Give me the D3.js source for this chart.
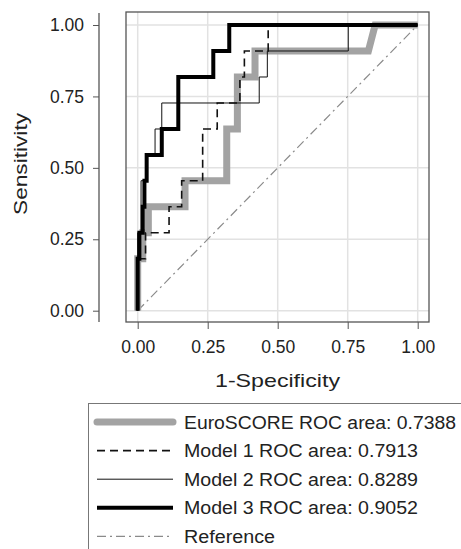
<!DOCTYPE html>
<meta charset="utf-8">
<style>
    body { margin: 0; background: #fff; }
    text { font-family: "Liberation Sans", Arial, sans-serif; fill: #222; }
    .grid line { stroke: #e2e2e2; stroke-width: 1.5px; }
    .axis path { display: none; }
    .axis line { stroke: #555; }
</style>
<body>
<div id="d3_target"></div>
<script src="https://cdn.jsdelivr.net/npm/d3@7"></script>
<script>
    // ROC step curves: [1-specificity, sensitivity]
    var euroscore = [[0, 0], [0, 0.182], [0.018, 0.182], [0.018, 0.273], [0.038, 0.273], [0.038, 0.364],
        [0.169, 0.364], [0.169, 0.455], [0.318, 0.455], [0.318, 0.636], [0.356, 0.636], [0.356, 0.818],
        [0.419, 0.818], [0.419, 0.909], [0.824, 0.909], [0.848, 1], [1, 1]];
    var model1 = [[0, 0], [0, 0.182], [0.028, 0.182], [0.028, 0.273], [0.112, 0.273], [0.112, 0.364],
        [0.157, 0.364], [0.157, 0.455], [0.232, 0.455], [0.232, 0.636], [0.284, 0.636], [0.284, 0.727],
        [0.365, 0.727], [0.365, 0.818], [0.381, 0.818], [0.381, 0.909], [0.466, 0.909], [0.466, 1], [1, 1]];
    var model2 = [[0, 0], [0, 0.273], [0.012, 0.273], [0.012, 0.455], [0.03, 0.455], [0.03, 0.545],
        [0.062, 0.545], [0.062, 0.636], [0.086, 0.636], [0.086, 0.727], [0.434, 0.727], [0.434, 0.818],
        [0.463, 0.818], [0.463, 0.909], [0.752, 0.909], [0.752, 1], [1, 1]];
    var model3 = [[0, 0], [0, 0.182], [0.006, 0.182], [0.006, 0.273], [0.018, 0.273], [0.018, 0.364],
        [0.024, 0.364], [0.024, 0.455], [0.032, 0.455], [0.032, 0.545], [0.086, 0.545], [0.086, 0.636],
        [0.145, 0.636], [0.145, 0.818], [0.27, 0.818], [0.27, 0.909], [0.327, 0.909], [0.327, 1], [1, 1]];
    var reference = [[0, 0], [1, 1]];

    var tickValues = [0, 0.25, 0.5, 0.75, 1];
    var legendLabels = ["EuroSCORE ROC area: 0.7388", "Model 1 ROC area: 0.7913",
        "Model 2 ROC area: 0.8289", "Model 3 ROC area: 0.9052", "Reference"];

    var width = 461,
        height = 549;

    var styles = [
        { data: euroscore, color: "#a3a3a3", w: 7, dash: null, cap: "round" },
        { data: model1, color: "#111", w: 1.6, dash: "8,5", cap: "butt" },
        { data: model2, color: "#111", w: 1, dash: null, cap: "butt" },
        { data: model3, color: "#000", w: 4, dash: null, cap: "butt" },
        { data: reference, color: "#8a8a8a", w: 1.2, dash: "9,4,2,4", cap: "butt" }
    ];
    var legendLen = [272, 234, 234, 234, 91];

    var svg = d3.select("#d3_target").append("svg")
        .attr("width", width)
        .attr("height", height);

    var x = d3.scaleLinear().domain([0, 1]).range([137.7, 417.7]);
    var y = d3.scaleLinear().domain([0, 1]).range([310.7, 25]);

    // grid
    svg.append("g").attr("class", "grid")
        .selectAll("line.v").data(tickValues).enter().append("line")
        .attr("x1", function (d) { return x(d); }).attr("x2", function (d) { return x(d); })
        .attr("y1", 12).attr("y2", 322);
    svg.append("g").attr("class", "grid")
        .selectAll("line.h").data(tickValues).enter().append("line")
        .attr("y1", function (d) { return y(d); }).attr("y2", function (d) { return y(d); })
        .attr("x1", 126).attr("x2", 429);

    // plot frame
    svg.append("rect")
        .attr("x", 126).attr("y", 12).attr("width", 303).attr("height", 310)
        .attr("fill", "none").attr("stroke", "#555").attr("stroke-width", 1.3);

    // axes
    var fmt = d3.format(".2f");
    svg.append("g").attr("class", "axis")
        .attr("transform", "translate(0,322)")
        .call(d3.axisBottom(x).tickValues(tickValues).tickFormat(fmt).tickSize(7).tickPadding(12))
        .selectAll("text").style("font-size", "17.5px").attr("fill", "#222");

    svg.append("line")
        .attr("x1", 99).attr("x2", 99).attr("y1", 13).attr("y2", 322)
        .attr("stroke", "#555").attr("stroke-width", 1.3);
    svg.append("g").attr("class", "axis")
        .attr("transform", "translate(99,0)")
        .call(d3.axisLeft(y).tickValues(tickValues).tickFormat(fmt).tickSize(6).tickPadding(9))
        .selectAll("text").style("font-size", "17.5px").attr("fill", "#222");

    svg.append("text")
        .attr("x", 277.5).attr("y", 387)
        .attr("text-anchor", "middle")
        .style("font-size", "19px")
        .attr("textLength", 125).attr("lengthAdjust", "spacingAndGlyphs")
        .text("1-Specificity");

    svg.append("text")
        .attr("transform", "translate(27,164) rotate(-90)")
        .attr("text-anchor", "middle")
        .style("font-size", "18px")
        .attr("textLength", 102).attr("lengthAdjust", "spacingAndGlyphs")
        .text("Sensitivity");

    // curves
    var line = d3.line()
        .x(function (d) { return x(d[0]); })
        .y(function (d) { return y(d[1]); });

    var order = [4, 0, 1, 2, 3];
    order.forEach(function (i) {
        var s = styles[i];
        svg.append("path")
            .datum(s.data)
            .attr("d", line)
            .attr("fill", "none")
            .attr("stroke", s.color)
            .attr("stroke-width", s.w)
            .attr("stroke-dasharray", s.dash)
            .attr("stroke-linejoin", "miter")
            .attr("stroke-linecap", s.cap === "round" ? "butt" : s.cap);
    });

    // legend
    var legend = svg.append("g");
    legend.append("rect")
        .attr("x", 88.5).attr("y", 403.5).attr("width", 400).attr("height", 200)
        .attr("fill", "#fff").attr("stroke", "#777").attr("stroke-width", 1);

    var row = legend.selectAll("g.row").data(legendLabels).enter().append("g")
        .attr("transform", function (d, i) { return "translate(0," + (422 + i * 28.6) + ")"; });

    row.append("line")
        .attr("x1", 97).attr("x2", 173).attr("y1", 0).attr("y2", 0)
        .attr("stroke", function (d, i) { return styles[i].color; })
        .attr("stroke-width", function (d, i) { return styles[i].w; })
        .attr("stroke-dasharray", function (d, i) { return styles[i].dash; })
        .attr("stroke-linecap", function (d, i) { return styles[i].cap; });

    row.append("text")
        .attr("x", 184).attr("y", 6.5)
        .style("font-size", "17.5px")
        .attr("textLength", function (d, i) { return legendLen[i]; })
        .attr("lengthAdjust", "spacingAndGlyphs")
        .text(function (d) { return d; });
</script>
